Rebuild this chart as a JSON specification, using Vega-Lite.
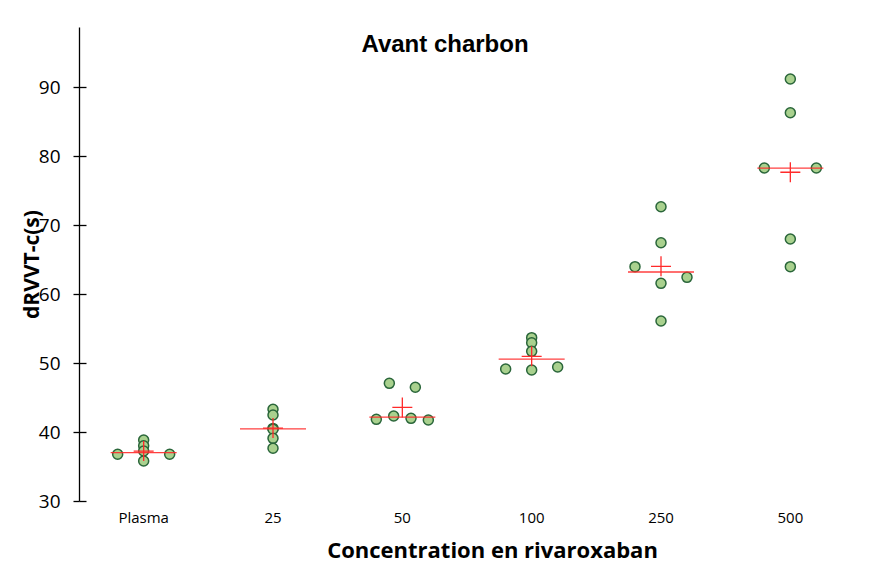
{
  "$schema": "https://vega.github.io/schema/vega-lite/v6.json",
  "autosize": {"type": "none"},
  "width": 776,
  "height": 474,
  "padding": {"left": 79, "top": 27, "right": 16, "bottom": 65},
  "background": "white",
  "config": {"view": {"stroke": null}},
  "title": {
    "text": "Avant charbon",
    "font": "Liberation Sans",
    "fontSize": 24,
    "fontWeight": "bold",
    "color": "#000000",
    "anchor": "middle",
    "baseline": "middle",
    "offset": -19,
    "dy": 23,
    "dx": -22
  },
  "data": {
    "values": [
      {"concentration": "Plasma", "dRVVT": 36.77, "slot": -3},
      {"concentration": "Plasma", "dRVVT": 36.77, "slot": 3},
      {"concentration": "Plasma", "dRVVT": 38.84, "slot": 0},
      {"concentration": "Plasma", "dRVVT": 38.0, "slot": 0},
      {"concentration": "Plasma", "dRVVT": 37.25, "slot": 0},
      {"concentration": "Plasma", "dRVVT": 35.8, "slot": 0},
      {"concentration": "25", "dRVVT": 43.29, "slot": 0},
      {"concentration": "25", "dRVVT": 42.46, "slot": 0},
      {"concentration": "25", "dRVVT": 40.52, "slot": 0},
      {"concentration": "25", "dRVVT": 40.4, "slot": 0},
      {"concentration": "25", "dRVVT": 39.08, "slot": 0},
      {"concentration": "25", "dRVVT": 37.64, "slot": 0},
      {"concentration": "50", "dRVVT": 47.05, "slot": -1.5},
      {"concentration": "50", "dRVVT": 46.48, "slot": 1.5},
      {"concentration": "50", "dRVVT": 41.84, "slot": -3},
      {"concentration": "50", "dRVVT": 42.32, "slot": -1},
      {"concentration": "50", "dRVVT": 41.98, "slot": 1},
      {"concentration": "50", "dRVVT": 41.74, "slot": 3},
      {"concentration": "100", "dRVVT": 49.13, "slot": -3},
      {"concentration": "100", "dRVVT": 48.99, "slot": 0},
      {"concentration": "100", "dRVVT": 49.42, "slot": 3},
      {"concentration": "100", "dRVVT": 53.67, "slot": 0},
      {"concentration": "100", "dRVVT": 52.94, "slot": 0},
      {"concentration": "100", "dRVVT": 51.69, "slot": 0},
      {"concentration": "250", "dRVVT": 72.65, "slot": 0},
      {"concentration": "250", "dRVVT": 67.43, "slot": 0},
      {"concentration": "250", "dRVVT": 63.96, "slot": -3},
      {"concentration": "250", "dRVVT": 61.55, "slot": 0},
      {"concentration": "250", "dRVVT": 62.42, "slot": 3},
      {"concentration": "250", "dRVVT": 56.09, "slot": 0},
      {"concentration": "500", "dRVVT": 91.16, "slot": 0},
      {"concentration": "500", "dRVVT": 86.28, "slot": 0},
      {"concentration": "500", "dRVVT": 78.26, "slot": -3},
      {"concentration": "500", "dRVVT": 78.26, "slot": 3},
      {"concentration": "500", "dRVVT": 67.97, "slot": 0},
      {"concentration": "500", "dRVVT": 63.96, "slot": 0}
    ]
  },
  "encoding": {
    "x": {
      "field": "concentration",
      "type": "nominal",
      "sort": ["Plasma", "25", "50", "100", "250", "500"],
      "scale": {"type": "band", "paddingInner": 0, "paddingOuter": 0},
      "axis": {
        "title": "Concentration en rivaroxaban",
        "titleFont": "Open Sans",
        "titleFontSize": 22,
        "titleFontWeight": "bold",
        "titleColor": "#000000",
        "titleX": 413,
        "titleY": 49,
        "titleBaseline": "middle",
        "titleAnchor": "middle",
        "labelAngle": 0,
        "labelFont": "Open Sans",
        "labelFontSize": 15,
        "labelColor": "#000000",
        "labelPadding": 9,
        "ticks": false,
        "tickSize": 0,
        "domain": false,
        "grid": false
      }
    }
  },
  "resolve": {"axis": {"y": "independent"}},
  "layer": [
    {
      "mark": {"type": "point", "filled": true, "shape": "circle", "size": 100, "fill": "#a9d18e", "stroke": "#2a663a", "strokeWidth": 1.5, "opacity": 1},
      "encoding": {
        "y": {
          "field": "dRVVT",
          "type": "quantitative",
          "scale": {"domain": [30, 98.7], "nice": false, "zero": false},
          "axis": {
            "orient": "left",
            "title": "dRVVT-c(s)",
            "titleFont": "Open Sans",
            "titleFontSize": 21,
            "titleFontWeight": "bold",
            "titleColor": "#000000",
            "titleX": -47,
            "titleY": 237,
            "titleAngle": 270,
            "titleBaseline": "middle",
            "titleAnchor": "middle",
            "values": [30, 40, 50, 60, 70, 80, 90],
            "labelFont": "Open Sans",
            "labelFontSize": 19,
            "labelColor": "#000000",
            "labelPadding": 13,
            "tickSize": 6,
            "tickColor": "#000000",
            "tickWidth": 1.3,
            "domainColor": "#000000",
            "domainWidth": 1.3,
            "grid": false
          }
        },
        "xOffset": {"field": "slot", "type": "quantitative", "scale": {"domain": [-3, 3], "range": [38.67, 90.67]}}
      }
    },
    {
      "transform": [{"aggregate": [{"op": "median", "field": "dRVVT", "as": "median_dRVVT"}], "groupby": ["concentration"]}],
      "mark": {"type": "tick", "orient": "horizontal", "size": 66, "thickness": 1.3, "color": "#ff2a2a", "opacity": 0.9},
      "encoding": {
        "y": {
          "field": "median_dRVVT",
          "type": "quantitative",
          "axis": {
            "orient": "left",
            "title": null,
            "values": [30, 40, 50, 60, 70, 80, 90],
            "labels": false,
            "domain": false,
            "grid": false,
            "offset": -7,
            "tickSize": 7,
            "tickColor": "#000000",
            "tickWidth": 1.3
          }
        }
      }
    },
    {
      "transform": [{"aggregate": [{"op": "mean", "field": "dRVVT", "as": "mean_dRVVT"}], "groupby": ["concentration"]}],
      "mark": {"type": "point", "shape": "M-1,0L1,0M0,-1L0,1", "size": 400, "filled": false, "stroke": "#ff2a2a", "strokeWidth": 1.3, "opacity": 1},
      "encoding": {
        "y": {"field": "mean_dRVVT", "type": "quantitative", "axis": null}
      }
    }
  ]
}
